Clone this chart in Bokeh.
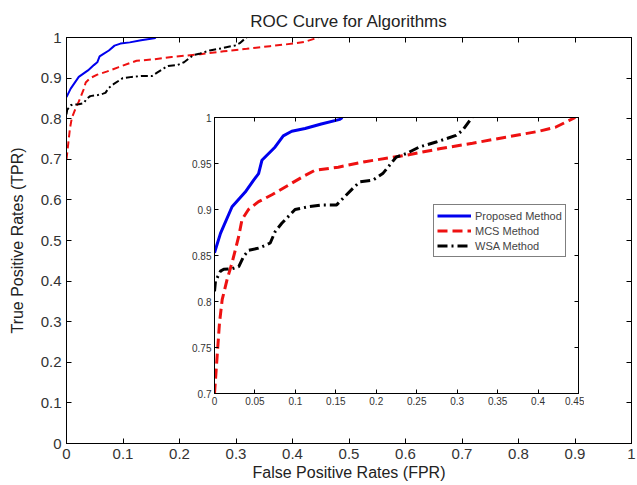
from bokeh.plotting import figure
from bokeh.models import Range1d, FixedTicker, LinearAxis, Legend, LegendItem
from bokeh.layouts import column
from bokeh.embed import file_html
from bokeh.resources import INLINE

title_text = "ROC Curve for Algorithms"
x_label = "False Positive Rates (FPR)"
y_label = "True Positive Rates (TPR)"
series_names = ["Proposed Method", "MCS Method", "WSA Method"]

proposed_fpr = [0, 0.0074, 0.0217, 0.038, 0.0484, 0.0545, 0.0586, 0.0648, 0.075, 0.085,
                0.0955, 0.112, 0.132, 0.155, 0.158]
proposed_tpr = [0.853, 0.874, 0.903, 0.919, 0.932, 0.939, 0.9535, 0.959, 0.968, 0.980,
                0.985, 0.988, 0.993, 0.998, 1.0]

mcs_fpr = [0, 0.0033, 0.0062, 0.0095, 0.0156, 0.0217, 0.030, 0.034, 0.042, 0.0545, 0.071,
           0.0914, 0.112, 0.124, 0.153, 0.186, 0.237, 0.278, 0.319, 0.36, 0.401, 0.4215,
           0.438, 0.446]
mcs_tpr = [0.70, 0.741, 0.777, 0.802, 0.824, 0.842, 0.871, 0.889, 0.900, 0.9085, 0.916,
           0.9265, 0.937, 0.9426, 0.946, 0.952, 0.959, 0.966, 0.972, 0.9786, 0.985, 0.9894,
           0.9966, 1.0]

wsa_fpr = [0, 0.0012, 0.0074, 0.0114, 0.0217, 0.030, 0.036, 0.042, 0.0545, 0.0648, 0.0689,
           0.075, 0.0832, 0.0996, 0.116, 0.1325, 0.151, 0.161, 0.173, 0.1796, 0.196, 0.208,
           0.2247, 0.237, 0.2534, 0.274, 0.2985, 0.3066, 0.317, 0.319]
wsa_tpr = [0.811, 0.822, 0.833, 0.835, 0.8356, 0.838, 0.849, 0.8556, 0.858, 0.8618, 0.8636,
           0.876, 0.885, 0.900, 0.903, 0.905, 0.905, 0.914, 0.9247, 0.930, 0.932, 0.939,
           0.957, 0.9607, 0.968, 0.9733, 0.9805, 0.986, 0.9985, 1.0]

main_ticks = [0, 0.1, 0.2, 0.3, 0.4, 0.5, 0.6, 0.7, 0.8, 0.9, 1]
main_tick_labels = ["0", "0.1", "0.2", "0.3", "0.4", "0.5", "0.6", "0.7", "0.8", "0.9", "1"]
inset_x_ticks = [0, 0.05, 0.1, 0.15, 0.2, 0.25, 0.3, 0.35, 0.4, 0.45]
inset_x_labels = ["0", "0.05", "0.1", "0.15", "0.2", "0.25", "0.3", "0.35", "0.4", "0.45"]
inset_y_ticks = [0.7, 0.75, 0.8, 0.85, 0.9, 0.95, 1]
inset_y_labels = ["0.7", "0.75", "0.8", "0.85", "0.9", "0.95", "1"]

FONT = "Liberation Sans"
BLUE = "#0000ee"
RED = "#ee1111"
BLACK = "#000000"
TXT = "#333333"


def style_axes(fig, xt, xl, yt, yl, size, standoff, tick):
    for ax, t, l in ((fig.below[0], xt, xl), (fig.left[0], yt, yl)):
        ax.ticker = FixedTicker(ticks=t)
        ax.major_label_overrides = dict(zip(t, l))
        ax.major_label_text_font = FONT
        ax.major_label_text_font_size = size
        ax.major_label_text_color = TXT
        ax.major_label_standoff = standoff
        ax.major_tick_in = tick
        ax.major_tick_out = 0
        ax.minor_tick_in = 0
        ax.minor_tick_out = 0
        ax.axis_line_color = "black"
        ax.major_tick_line_color = "black"
    for loc, t in (("above", xt), ("right", yt)):
        ax = LinearAxis(ticker=FixedTicker(ticks=t), major_label_text_font_size="1px",
                        major_label_text_color=None,
                        major_label_standoff=0, axis_label_standoff=0,
                        major_tick_in=tick, major_tick_out=0,
                        minor_tick_in=0, minor_tick_out=0, axis_line_color="black",
                        major_tick_line_color="black")
        fig.add_layout(ax, loc)
    fig.xgrid.visible = False
    fig.ygrid.visible = False
    fig.outline_line_color = "black"


# ---------- main figure ----------
p = figure(width=637, height=485, x_range=Range1d(0, 1), y_range=Range1d(0, 1),
           output_backend="svg", toolbar_location=None, title=title_text,
           min_border_left=66, min_border_right=2, min_border_top=37, min_border_bottom=42)
style_axes(p, main_ticks, main_tick_labels, main_ticks, main_tick_labels, "15px", 5, 5)
p.title.text_font = FONT
p.title.text_font_size = "17px"
p.title.text_font_style = "normal"
p.title.text_color = "#222222"
p.title.align = "center"
p.title.standoff = 13
xa = p.below[0]
ya = p.left[0]
xa.axis_label = x_label
ya.axis_label = y_label
for ax in (xa, ya):
    ax.axis_label_text_font = FONT
    ax.axis_label_text_font_size = "16px"
    ax.axis_label_text_font_style = "normal"
    ax.axis_label_text_color = "#222222"
xa.axis_label_standoff = 2
ya.axis_label_standoff = 12

p.line(proposed_fpr, proposed_tpr, line_color=BLUE, line_width=2)
p.line(mcs_fpr, mcs_tpr, line_color=RED, line_width=2, line_dash="7 4")
p.line(wsa_fpr, wsa_tpr, line_color=BLACK, line_width=2, line_dash="7 3 2 3")

# ---------- inset figure ----------
# (a column aligns the left borders of its plots, so the inset shares the 66px left border)
q = figure(width=436, height=302, x_range=Range1d(0, 0.45), y_range=Range1d(0.7, 1),
           output_backend="svg", toolbar_location=None,
           min_border_left=66, min_border_right=6, min_border_top=6, min_border_bottom=20,
           margin=(111 - 485, 0, 0, 148))
style_axes(q, inset_x_ticks, inset_x_labels, inset_y_ticks, inset_y_labels, "10px", 3, 4)

r1 = q.line(proposed_fpr, proposed_tpr, line_color=BLUE, line_width=3)
r2 = q.line(mcs_fpr, mcs_tpr, line_color=RED, line_width=3, line_dash="10 5")
r3 = q.line(wsa_fpr, wsa_tpr, line_color=BLACK, line_width=3, line_dash="10 4 2 4")

legend = Legend(items=[LegendItem(label=series_names[0], renderers=[r1]),
                       LegendItem(label=series_names[1], renderers=[r2]),
                       LegendItem(label=series_names[2], renderers=[r3])],
                location=(219, 136), padding=3, spacing=0, margin=0,
                label_height=15, glyph_height=15, glyph_width=34, label_standoff=4,
                label_text_font=FONT, label_text_font_size="11px",
                border_line_color="black", border_line_width=1,
                background_fill_color="white", background_fill_alpha=1)
q.add_layout(legend, "center")

layout = column(p, q, spacing=0)
open("out.html", "w").write(file_html(layout, INLINE))
